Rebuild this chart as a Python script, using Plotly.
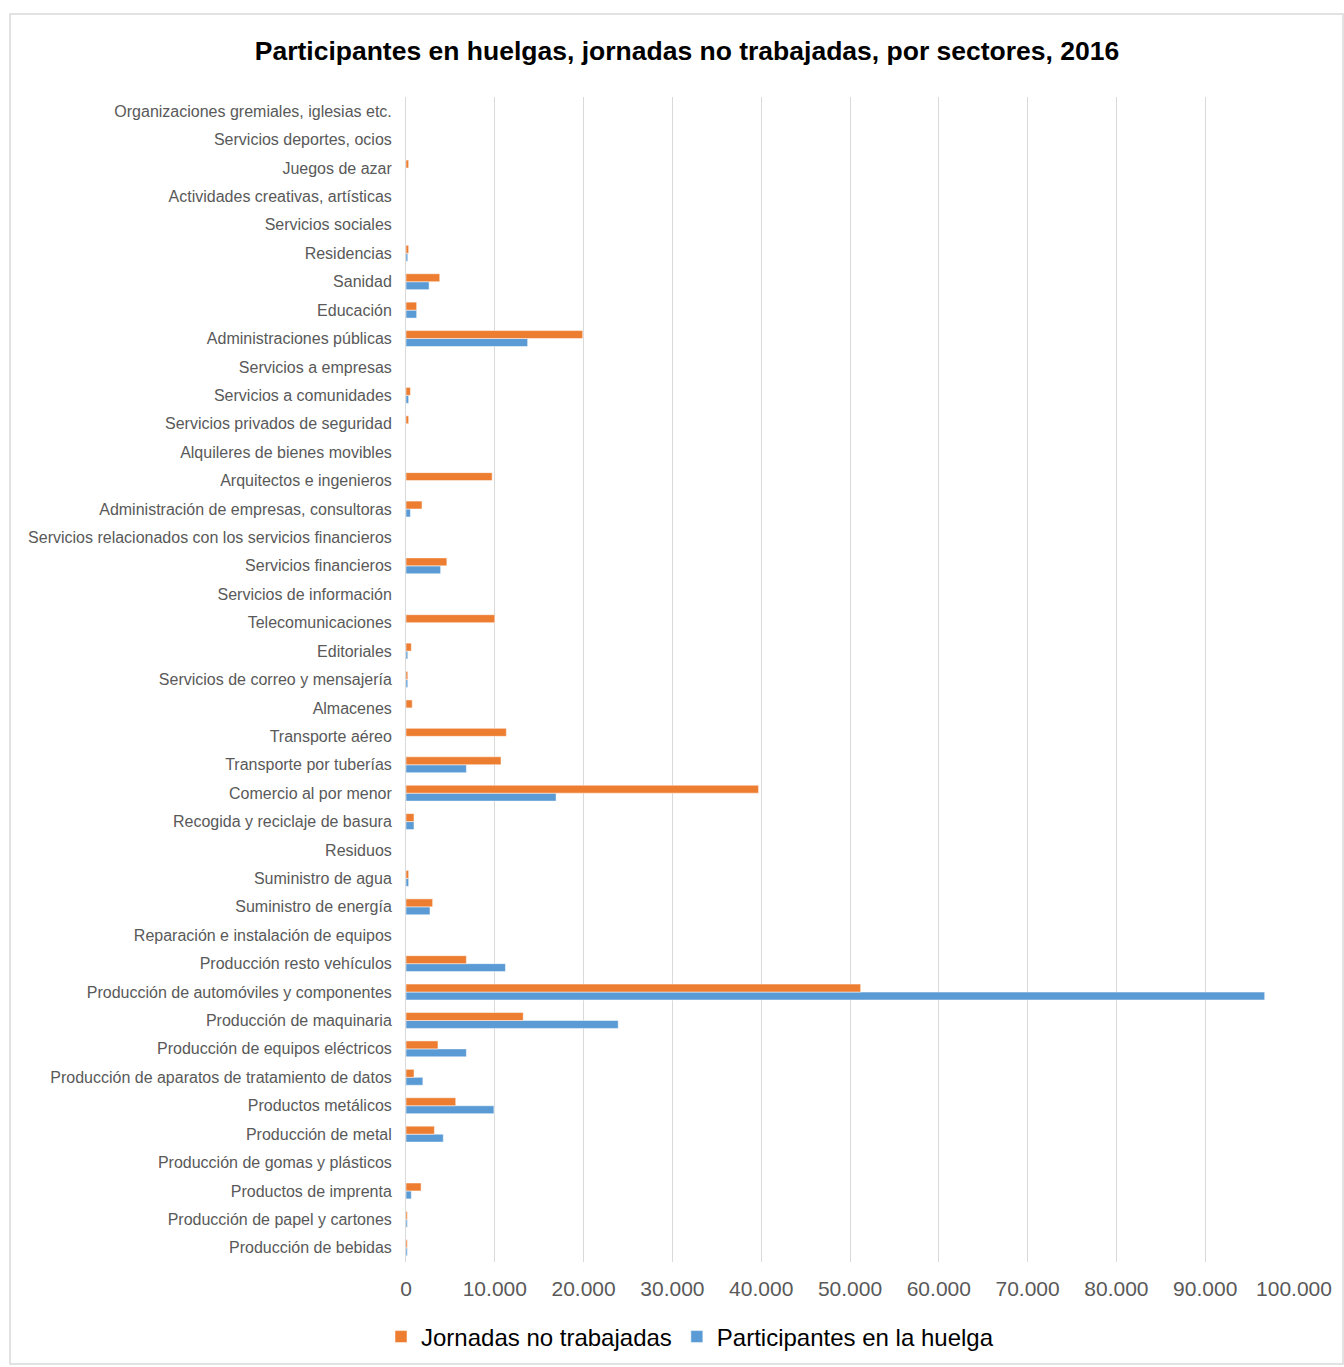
import plotly.graph_objects as go

# Sectors, listed from the bottom of the chart to the top
sectores = [
    "Producción de bebidas",
    "Producción de papel y cartones",
    "Productos de imprenta",
    "Producción de gomas y plásticos",
    "Producción de metal",
    "Productos metálicos",
    "Producción de aparatos de tratamiento de datos",
    "Producción de equipos eléctricos",
    "Producción de maquinaria",
    "Producción de automóviles y componentes",
    "Producción resto vehículos",
    "Reparación e instalación de equipos",
    "Suministro de energía",
    "Suministro de agua",
    "Residuos",
    "Recogida y reciclaje de basura",
    "Comercio al por menor",
    "Transporte por tuberías",
    "Transporte aéreo",
    "Almacenes",
    "Servicios de correo y mensajería",
    "Editoriales",
    "Telecomunicaciones",
    "Servicios de información",
    "Servicios financieros",
    "Servicios relacionados con los servicios financieros",
    "Administración de empresas, consultoras",
    "Arquitectos e ingenieros",
    "Alquileres de bienes movibles",
    "Servicios privados de seguridad",
    "Servicios a comunidades",
    "Servicios a empresas",
    "Administraciones públicas",
    "Educación",
    "Sanidad",
    "Residencias",
    "Servicios sociales",
    "Actividades creativas, artísticas",
    "Juegos de azar",
    "Servicios deportes, ocios",
    "Organizaciones gremiales, iglesias etc.",
]

jornadas = [
    150, 150, 1700, 0, 3200, 5600, 900, 3600, 13200, 51200,
    6800, 0, 3000, 300, 0, 900, 39700, 10700, 11300, 700,
    200, 600, 10000, 0, 4600, 0, 1800, 9700, 0, 300,
    500, 0, 19900, 1200, 3800, 300, 0, 0, 300, 0, 0,
]

participantes = [
    150, 150, 600, 0, 4200, 9900, 1900, 6800, 23900, 96700,
    11200, 0, 2700, 300, 0, 900, 16900, 6800, 0, 0,
    200, 200, 0, 0, 3900, 0, 500, 0, 0, 0,
    300, 0, 13700, 1200, 2600, 200, 0, 0, 0, 0, 0,
]

x_ticks = list(range(0, 100001, 10000))

AZUL = "#5B9BD5"
NARANJA = "#ED7D31"
GRIS = "#595959"

fig = go.Figure()
# Blue first so that the orange bar sits above it within each group
fig.add_trace(go.Bar(
    y=sectores, x=participantes, orientation="h",
    name="Participantes en la huelga", marker_color=AZUL,
    marker_line=dict(color="white", width=0.5), legendrank=2,
))
fig.add_trace(go.Bar(
    y=sectores, x=jornadas, orientation="h",
    name="Jornadas no trabajadas", marker_color=NARANJA,
    marker_line=dict(color="white", width=0.5), legendrank=1,
))

W, H = 1344, 1367
L, R, T, B = 406, 50, 97, 105
pw, ph = W - L - R, H - T - B

def px_x(p):
    return (p - L) / pw

def px_y(p):
    return 1 - (p - T) / ph

fig.update_layout(
    width=W, height=H,
    margin=dict(l=L, r=R, t=T, b=B),
    paper_bgcolor="white", plot_bgcolor="white",
    separators=",.",
    barmode="group", bargap=0.44, bargroupgap=0,
    font=dict(family="Liberation Sans, Arial, sans-serif", color=GRIS),
    title=dict(
        text="<b>Participantes en huelgas, jornadas no trabajadas, por sectores, 2016</b>",
        font=dict(size=26.5, color="black"),
        x=687 / W, xanchor="center", xref="container",
        y=1 - 51 / H, yanchor="middle", yref="container",
    ),
    xaxis=dict(
        range=[0, 100000], tickvals=x_ticks, tickformat=",d",
        showgrid=True, gridcolor="#D9D9D9", gridwidth=1,
        zeroline=False, showline=False, ticks="",
        tickfont=dict(size=21, color=GRIS), ticklabelstandoff=12,
    ),
    yaxis=dict(
        categoryorder="array", categoryarray=sectores,
        showgrid=False, zeroline=False,
        showline=True, linecolor="#D9D9D9", linewidth=1,
        ticks="", tickfont=dict(size=16, color=GRIS), ticklabelstandoff=10,
        range=[-0.5, len(sectores) - 0.5],
    ),
    legend=dict(
        orientation="h", xref="container", yref="container",
        x=690 / W, xanchor="center", y=1 - 1337 / H, yanchor="middle",
        font=dict(size=24, color="black"), itemwidth=30,
        traceorder="normal",
    ),
    shapes=[dict(
        type="rect", xref="paper", yref="paper",
        x0=px_x(10), x1=px_x(1343), y0=px_y(1364), y1=px_y(14),
        line=dict(color="#D9D9D9", width=1.5), fillcolor="rgba(0,0,0,0)",
        layer="below",
    )],
)

fig.write_html("out.html")
